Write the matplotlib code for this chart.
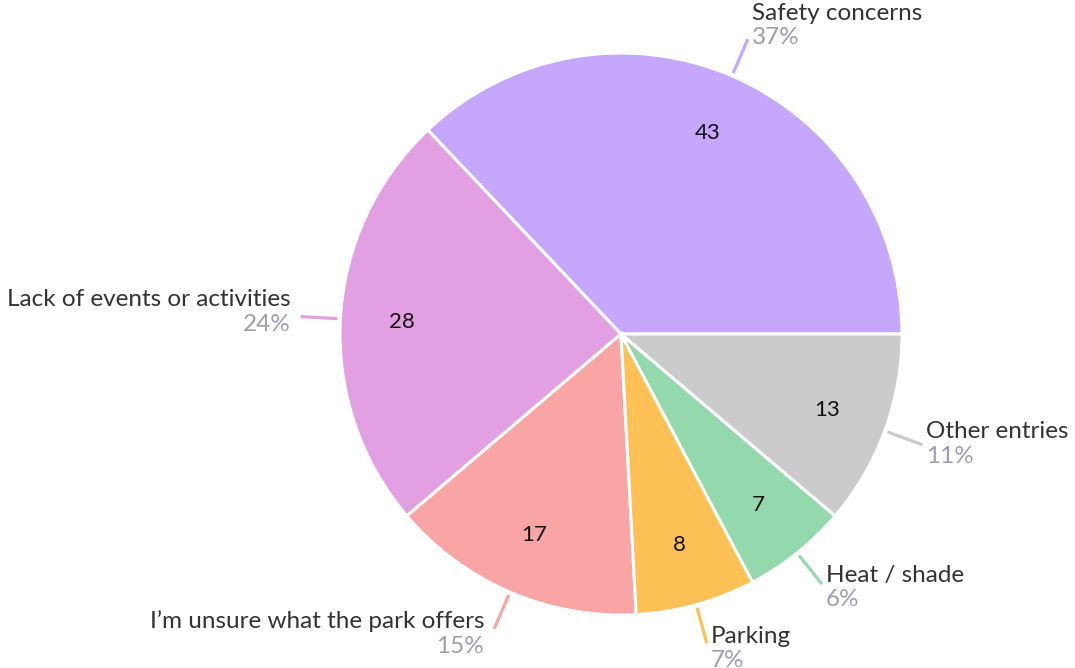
import numpy as np
import matplotlib
matplotlib.use("Agg")
import matplotlib.pyplot as plt

categories = ["Safety concerns", "Lack of events or activities", "I\u2019m unsure what the park offers",
              "Parking", "Heat / shade", "Other entries"]
values = [43, 28, 17, 8, 7, 13]
colors = ["#c5a8fd", "#e2a0e3", "#faa5a5", "#fec156", "#93d9ad", "#cbcbcb"]

W, H = 1075, 668
fig = plt.figure(figsize=(W / 100, H / 100), dpi=100)
ax = fig.add_axes([0, 0, 1, 1])
ax.set_xlim(0, W)
ax.set_ylim(0, H)
ax.axis("off")

cx, cy, R = 621, 334, 281
wedges, texts = ax.pie(values, colors=colors, startangle=0, counterclock=True,
                       center=(cx, cy), radius=R, labels=[str(v) for v in values],
                       labeldistance=0.78,
                       wedgeprops=dict(edgecolor="white", linewidth=2.2),
                       textprops=dict(fontsize=16, color="#111111", family="Lato",
                                      ha="center", va="center"))
ax.set_xlim(0, W)
ax.set_ylim(0, H)

total = sum(values)
for w, cat, v in zip(wedges, categories, values):
    ang = np.deg2rad((w.theta1 + w.theta2) / 2)
    c, s = np.cos(ang), np.sin(ang)
    x0, y0 = cx + (R + 3) * c, cy + (R + 3) * s
    x1, y1 = cx + (R + 40) * c, cy + (R + 40) * s
    ax.plot([x0, x1], [y0, y1], color=w.get_facecolor(), lw=2.3, solid_capstyle="butt")
    right = c >= 0
    tx = x1 + (4 if right else -10)
    ha = "left" if right else "right"
    name_off = 16.5 + 10 * s
    ax.text(tx, y1 + name_off, cat, ha=ha, va="center", fontsize=17.5,
            color="#333333", family="Lato")
    ax.text(tx, y1 + name_off - 24.5, f"{round(100 * v / total)}%", ha=ha, va="center",
            fontsize=17.5, color="#9d9db5", family="Lato")

fig.savefig("out.png", dpi=100)
